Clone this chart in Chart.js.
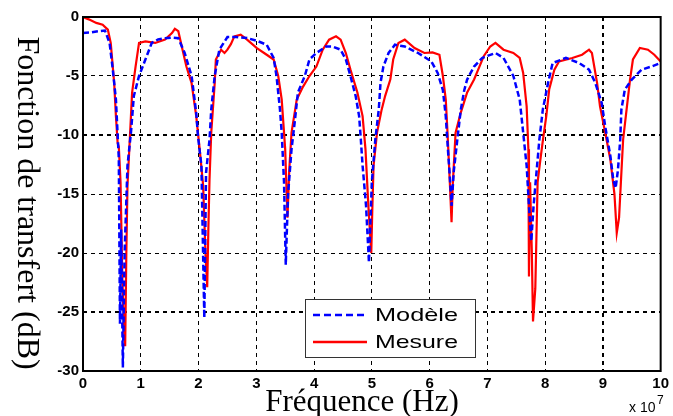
<!DOCTYPE html>
<html>
<head>
<meta charset="utf-8">
<script src="https://cdn.jsdelivr.net/npm/chart.js@4.4.0/dist/chart.umd.min.js"></script>
<style>
  html, body { margin: 0; padding: 0; background: #fff; }
  #wrap { width: 673px; height: 416px; }
</style>
</head>
<body>
<div id="wrap"><canvas id="canvas" width="673" height="416"></canvas></div>
<script>
// frequence en unites de 1e7 Hz
var modeleX = [0,0.15,0.28,0.38,0.46,0.51,0.57,0.62,0.64,0.66,0.69,0.72,0.77,0.83,0.88,0.97,1.08,1.19,1.3,1.42,1.55,1.65,1.76,1.88,1.96,1.99,2.05,2.1,2.13,2.19,2.22,2.28,2.36,2.5,2.65,2.84,3.0,3.18,3.3,3.35,3.41,3.44,3.48,3.51,3.55,3.61,3.67,3.72,3.84,3.92,4.04,4.21,4.32,4.46,4.55,4.63,4.72,4.78,4.81,4.84,4.9,4.95,5.0,5.06,5.12,5.15,5.2,5.29,5.4,5.57,5.8,6.03,6.14,6.23,6.28,6.31,6.35,6.38,6.42,6.48,6.54,6.6,6.65,6.77,6.91,7.14,7.28,7.45,7.56,7.62,7.68,7.72,7.76,7.8,7.85,7.9,7.96,8.05,8.13,8.36,8.59,8.76,8.87,8.98,9.04,9.13,9.18,9.22,9.26,9.3,9.32,9.38,9.5,9.67,9.84,10];
var modeleY = [-1.35,-1.3,-1.2,-1.15,-2.2,-4.2,-7,-12,-26,-18,-29.7,-20,-12.6,-9.8,-6.7,-5,-3.6,-2.2,-1.9,-1.8,-1.75,-1.8,-3.05,-5,-8.1,-10.1,-12.6,-25.5,-13.2,-10.4,-7.85,-5,-2.77,-1.7,-1.7,-1.78,-2.0,-2.35,-3.47,-5,-7.85,-9.8,-14,-21,-15,-11.2,-8.7,-6.4,-5,-3.6,-3.05,-2.5,-2.5,-2.77,-3.6,-5,-6.7,-8.4,-10.4,-12.6,-16,-20.8,-14,-10.4,-7.85,-5.6,-4.2,-3.05,-2.35,-2.5,-3.05,-3.76,-4.74,-6.2,-8.4,-10.7,-13.5,-16,-13,-10.4,-7.85,-6.2,-5.3,-4.2,-3.47,-3.05,-3.47,-5,-7,-9.8,-12.6,-16,-19,-16,-13.2,-10.4,-7.85,-5.6,-3.9,-3.47,-3.9,-4.46,-5.6,-7.3,-9.26,-11.8,-13.8,-14.5,-13,-10.4,-7.85,-6.15,-5.3,-4.46,-4.2,-3.9];

var mesureX = [0,0.1,0.23,0.34,0.43,0.48,0.54,0.57,0.6,0.62,0.65,0.68,0.71,0.73,0.75,0.77,0.83,0.85,0.91,0.97,1.08,1.25,1.42,1.54,1.59,1.65,1.71,1.79,1.88,1.96,2.02,2.08,2.12,2.15,2.17,2.19,2.22,2.28,2.3,2.39,2.45,2.5,2.56,2.62,2.73,2.84,3.01,3.18,3.3,3.38,3.44,3.5,3.54,3.57,3.61,3.7,3.81,3.92,4.04,4.15,4.26,4.38,4.46,4.55,4.63,4.75,4.84,4.89,4.94,4.99,5.01,5.03,5.09,5.17,5.23,5.32,5.37,5.46,5.57,5.74,5.91,6.05,6.17,6.23,6.28,6.31,6.35,6.38,6.4,6.45,6.54,6.65,6.77,6.94,7.05,7.14,7.28,7.45,7.56,7.62,7.68,7.71,7.72,7.74,7.77,7.79,7.83,7.87,7.92,7.96,8.02,8.07,8.16,8.24,8.47,8.64,8.76,8.81,8.9,8.95,9.04,9.13,9.2,9.24,9.28,9.32,9.35,9.41,9.47,9.52,9.64,9.78,9.89,10];
var mesureY = [0,-0.2,-0.5,-0.65,-1.07,-2.2,-5.6,-8.4,-10.7,-11,-14,-22,-26.5,-27.9,-20,-14.3,-8.4,-6.4,-4.2,-2.2,-2.07,-2.2,-1.92,-1.36,-1.0,-1.2,-2.5,-4.2,-5.6,-8.4,-11.2,-14.3,-20,-22.9,-18,-13.8,-9.8,-5.6,-3.6,-2.77,-3.05,-2.77,-2.3,-1.64,-1.5,-1.92,-2.63,-3.2,-3.6,-5,-7,-11.2,-17,-13,-9.8,-7,-5.9,-5,-4.2,-2.77,-1.92,-1.64,-1.92,-3.05,-4.46,-6.4,-8.4,-11.2,-16,-20,-16,-12.6,-9.8,-7.85,-6.7,-5.3,-3.6,-2.2,-1.92,-2.63,-3.05,-3.0,-3.2,-5,-7,-9.8,-14,-17.4,-14.3,-9.8,-8.1,-6.4,-5.3,-3.3,-2.5,-2.2,-2.77,-3.05,-3.47,-4.74,-7.57,-11.2,-22,-14,-20,-25.8,-23,-14,-12,-10.5,-8.4,-6.15,-4.46,-3.76,-3.47,-3.2,-2.77,-3.05,-5.6,-7.57,-9.8,-12.1,-15,-18.3,-17,-13.2,-10.4,-7.85,-5.3,-3.6,-2.63,-2.77,-3.2,-3.76];

var seriesNames = ['Modèle', 'Mesure'];
var xTicks = [0,1,2,3,4,5,6,7,8,9,10];
var yTicks = [0,-5,-10,-15,-20,-25,-30];
var xTitle = 'Fréquence (Hz)';
var yTitle = 'Fonction de transfert (dB)';

function pts(xs, ys) {
  return xs.map(function(x, i) { return {x: x, y: ys[i]}; });
}

var tickFont = {family: 'Liberation Sans, Arial', size: 15, weight: 'bold'};

// titres, legende et facteur d'echelle
var extras = {
  id: 'extras',
  afterDraw: function(chart) {
    var c = chart.ctx;
    var ds = chart.data.datasets;
    c.save();
    c.fillStyle = '#000';
    c.font = '31px Liberation Serif, Times New Roman';
    c.textAlign = 'center';
    c.textBaseline = 'alphabetic';
    c.fillText(xTitle, 362, 411);
    c.save();
    c.translate(18, 203);
    c.rotate(Math.PI / 2);
    c.font = '32px Liberation Serif, Times New Roman';
    c.fillText(yTitle, 0, 0);
    c.restore();

    var x0 = 305, y0 = 299, w = 170, h = 58;
    c.fillStyle = '#fff';
    c.fillRect(x0, y0, w, h);
    c.strokeStyle = '#333';
    c.lineWidth = 1;
    c.strokeRect(x0 + 0.5, y0 + 0.5, w, h);
    c.font = '19px Liberation Sans, Arial';
    c.textAlign = 'left';
    c.textBaseline = 'middle';
    for (var i = 0; i < ds.length; i++) {
      var yy = y0 + 16 + i * 27;
      c.strokeStyle = ds[i].borderColor;
      c.lineWidth = 2.5;
      c.setLineDash(ds[i].borderDash ? [7, 4] : []);
      c.beginPath();
      c.moveTo(x0 + 8, yy);
      c.lineTo(x0 + 62, yy);
      c.stroke();
      c.setLineDash([]);
      c.fillStyle = '#000';
      var tw = c.measureText(ds[i].label).width;
      c.save();
      c.translate(x0 + 70, yy + 1);
      c.scale(83 / tw, 1);
      c.fillText(ds[i].label, 0, 0);
      c.restore();
    }
    c.fillStyle = '#000';
    c.font = '14px Liberation Sans, Arial';
    c.textBaseline = 'alphabetic';
    c.fillText('x 10', 629, 412);
    c.font = '12px Liberation Sans, Arial';
    c.fillText('7', 657, 404);
    c.restore();
  }
};

var frame = {
  id: 'frame',
  afterDatasetsDraw: function(chart) {
    var a = chart.chartArea, c = chart.ctx;
    c.save();
    c.strokeStyle = '#000';
    c.lineWidth = 2;
    c.strokeRect(a.left, a.top, a.right - a.left, a.bottom - a.top);
    c.restore();
  }
};

window.onload = function() {
  var ctx = document.getElementById('canvas').getContext('2d');
  window.myChart = new Chart(ctx, {
    type: 'line',
    data: {
      datasets: [{
        label: seriesNames[0],
        data: pts(modeleX, modeleY),
        borderColor: '#0000ff',
        borderWidth: 2.5,
        borderDash: [6, 3],
        pointRadius: 0,
        tension: 0,
        fill: false
      }, {
        label: seriesNames[1],
        data: pts(mesureX, mesureY),
        borderColor: '#ff0000',
        borderWidth: 2.2,
        pointRadius: 0,
        tension: 0,
        fill: false
      }]
    },
    options: {
      responsive: false,
      animation: false,
      layout: {padding: {top: 17, right: 3, left: 0, bottom: 0}},
      plugins: {
        legend: {display: false},
        tooltip: {enabled: false}
      },
      scales: {
        x: {
          type: 'linear',
          min: 0,
          max: 10,
          afterBuildTicks: function(s) { s.ticks = xTicks.map(function(v) { return {value: v}; }); },
          afterFit: function(s) { s.height = 45; },
          grid: {
            color: '#000',
            lineWidth: function(g) { return g.tick && g.tick.value === 9 ? 2 : 1; },
            drawTicks: false
          },
          border: {display: false, dash: [4, 4]},
          ticks: {color: '#000', font: tickFont, padding: 4, maxRotation: 0},
          title: {display: false}
        },
        y: {
          min: -30,
          max: 0,
          afterBuildTicks: function(s) { s.ticks = yTicks.map(function(v) { return {value: v}; }); },
          afterFit: function(s) { s.width = 83; },
          grid: {
            color: '#000',
            lineWidth: function(g) { return g.tick && (g.tick.value === -10 || g.tick.value === -25) ? 2 : 1; },
            drawTicks: false
          },
          border: {display: false, dash: [4, 4]},
          ticks: {color: '#000', font: tickFont, padding: 4},
          title: {display: false}
        }
      }
    },
    plugins: [frame, extras]
  });
};
</script>
</body>
</html>
